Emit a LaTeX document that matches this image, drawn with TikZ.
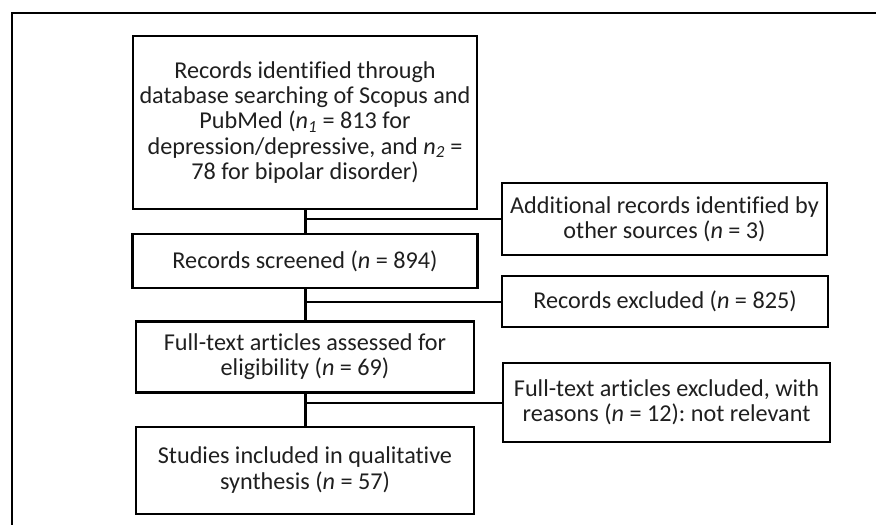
\documentclass[tikz,border=0pt]{standalone}
\usepackage{fontspec}
\setmainfont{Carlito}[Ligatures=NoCommon]
\usetikzlibrary{positioning}
\frenchspacing

\newcommand{\nsub}[1]{\textit{n}\textsubscript{\textit{#1}}}

\begin{document}
\begin{tikzpicture}[x=1pt,y=-1pt,
    box/.style={draw,line width=2.2pt,align=center,inner sep=0pt,text=black!88,font=\fontsize{24.2}{25.3}\selectfont},
    stem/.style={line width=3pt},
    branch/.style={line width=2pt}]
  \useasboundingbox (0,0) rectangle (876,525);
  \draw[line width=2.4pt] (12,525) -- (12,13) -- (876,13);
  \node[box,minimum width=344pt,minimum height=173pt] (ident) at (305,122.5)
    {Records identified through\\database searching of Scopus and\\PubMed (\nsub{1} = 813 for\\depression/depressive, and \nsub{2} =\\78 for bipolar disorder)};
  \node[box,minimum width=345pt,minimum height=54pt,below=23pt of ident] (screen) {Records screened (\textit{n} = 894)};
  \node[box,minimum width=338pt,minimum height=71pt,below=31pt of screen] (full) {Full-text articles assessed for\\eligibility (\textit{n} = 69)};
  \node[box,minimum width=338pt,minimum height=87pt,below=32pt of full] (incl) {Studies included in qualitative\\synthesis (\textit{n} = 57)};
  \node[box,minimum width=325pt,minimum height=72pt] (other) at (664.5,219) {Additional records identified by\\other sources (\textit{n} = 3)};
  \node[box,minimum width=326pt,minimum height=51pt] (excl) at (665,301.5) {Records excluded (\textit{n} = 825)};
  \node[box,minimum width=327pt,minimum height=79pt] (ftexcl) at (666.5,402.5) {Full-text articles excluded, with\\reasons (\textit{n} = 12): not relevant};
  \draw[stem] (ident) -- (screen);
  \draw[stem] (screen) -- (full);
  \draw[stem] (full) -- (incl);
  \draw[branch] (other.west) -- (other.west -| ident.south);
  \draw[branch] (excl.west) -- (excl.west -| screen.south);
  \draw[branch] (ftexcl.west) -- (ftexcl.west -| full.south);
\end{tikzpicture}
\end{document}
